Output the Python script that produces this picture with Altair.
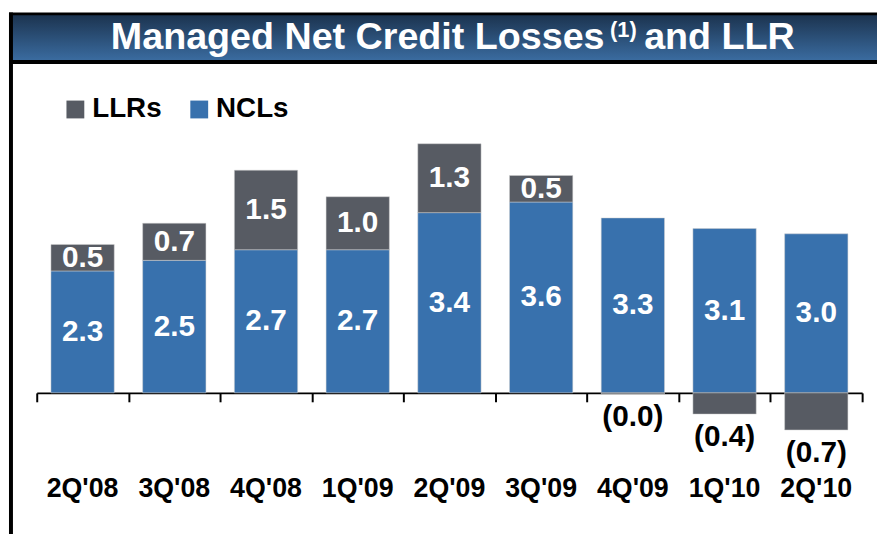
import altair as alt
import pandas as pd

quarters = ["2Q'08", "3Q'08", "4Q'08", "1Q'09", "2Q'09", "3Q'09", "4Q'09", "1Q'10", "2Q'10"]
ncl = [2.3, 2.5, 2.7, 2.7, 3.4, 3.6, 3.3, 3.1, 3.0]
llr = [0.5, 0.7, 1.5, 1.0, 1.3, 0.5, -0.02, -0.4, -0.7]
ncl_labels = ["2.3", "2.5", "2.7", "2.7", "3.4", "3.6", "3.3", "3.1", "3.0"]
llr_labels = ["0.5", "0.7", "1.5", "1.0", "1.3", "0.5", "(0.0)", "(0.4)", "(0.7)"]
series = ["LLRs", "NCLs"]

BLUE = "#3871ad"
GRAY = "#575b63"
FONT = "Liberation Sans"

W, H = 833, 516
YMIN, YMAX = -2.43, 7.215

rows = []
for q, n, l in zip(quarters, ncl, llr):
    rows.append({"q": q, "s": "NCLs", "v": n, "o": 0})
    rows.append({"q": q, "s": "LLRs", "v": l, "o": 1})
bars_df = pd.DataFrame(rows)

lab_rows = []
for q, n, l, nl, ll in zip(quarters, ncl, llr, ncl_labels, llr_labels):
    lab_rows.append({"q": q, "y": n / 2, "t": nl, "kind": "in"})
    if l >= 0:
        lab_rows.append({"q": q, "y": n + l / 2, "t": ll, "kind": "in"})
    else:
        lab_rows.append({"q": q, "y": l, "t": ll, "kind": "neg"})
lab_df = pd.DataFrame(lab_rows)

xsc = alt.Scale(domain=quarters, paddingInner=0, paddingOuter=0)
ysc = alt.Scale(domain=[YMIN, YMAX], nice=False, zero=False)

x_enc = alt.X("q:N", scale=xsc, sort=quarters,
              axis=alt.Axis(title=None, labels=False, offset=-(H - round(YMAX / (YMAX - YMIN) * H)),
                            domainColor="black", domainWidth=2, tickColor="black",
                            tickWidth=2, tickSize=9, tickBand="extent"))

bars = alt.Chart(bars_df).mark_bar(stroke="#d0d0d0", strokeWidth=0.5,
                                   width=alt.RelativeBandSize(0.69)).encode(
    x=x_enc,
    y=alt.Y("v:Q", scale=ysc, axis=None, stack="zero"),
    order=alt.Order("o:Q"),
    color=alt.Color("s:N", scale=alt.Scale(domain=series, range=[GRAY, BLUE]),
                    legend=alt.Legend(orient="none", legendX=25, legendY=86, direction="horizontal",
                                      title=None, symbolType="square", symbolSize=324,
                                      symbolStrokeWidth=0, symbolOpacity=1,
                                      labelFont=FONT, labelFontSize=28, labelFontWeight="bold",
                                      labelColor="black", labelOffset=3, columnPadding=24,
                                      padding=0, labelLimit=300)),
)

in_labels = alt.Chart(lab_df).transform_filter(alt.datum.kind == "in").mark_text(
    font=FONT, fontSize=30, fontWeight="bold", color="white", baseline="middle", align="center"
).encode(x=alt.X("q:N", scale=xsc, sort=quarters), y=alt.Y("y:Q", scale=ysc), text="t:N")

neg_labels = alt.Chart(lab_df).transform_filter(alt.datum.kind == "neg").mark_text(
    font=FONT, fontSize=30, fontWeight="bold", color="black", baseline="middle", align="center", dy=23
).encode(x=alt.X("q:N", scale=xsc, sort=quarters), y=alt.Y("y:Q", scale=ysc), text="t:N")

xlab_df = pd.DataFrame({"q": quarters})
x_labels = alt.Chart(xlab_df).mark_text(
    font=FONT, fontSize=27, fontWeight="bold", color="black", baseline="middle", align="center"
).encode(x=alt.X("q:N", scale=xsc, sort=quarters), y=alt.value(483), text="q:N")

one = pd.DataFrame({"a": [0]})
frame = alt.Chart(one).mark_rect(color="black").encode(
    x=alt.value(-28), x2=alt.value(848), y=alt.value(2), y2=alt.value(54))
left_line = alt.Chart(one).mark_rect(color="black").encode(
    x=alt.value(-28), x2=alt.value(-24), y=alt.value(2), y2=alt.value(530))
banner = alt.Chart(one).mark_rect(
    color=alt.Gradient(gradient="linear",
                       stops=[alt.GradientStop(color="#1c3450", offset=0),
                              alt.GradientStop(color="#3a6b9f", offset=1)],
                       x1=0, x2=0, y1=0, y2=1)
).encode(x=alt.value(-24), x2=alt.value(848), y=alt.value(5), y2=alt.value(50))

t1 = alt.Chart(one).mark_text(font=FONT, fontSize=38, fontWeight="bold", color="white",
                              align="right", baseline="alphabetic").encode(
    x=alt.value(573), y=alt.value(39), text=alt.value("Managed Net Credit Losses"))
t2 = alt.Chart(one).mark_text(font=FONT, fontSize=22, fontWeight="bold", color="white",
                              align="center", baseline="alphabetic").encode(
    x=alt.value(592), y=alt.value(27), text=alt.value("(1)"))
t3 = alt.Chart(one).mark_text(font=FONT, fontSize=38, fontWeight="bold", color="white",
                              align="left", baseline="alphabetic").encode(
    x=alt.value(613), y=alt.value(39), text=alt.value("and LLR"))

chart = alt.layer(
    frame, left_line, banner, t1, t2, t3, bars, in_labels, neg_labels, x_labels
).properties(
    width=W, height=H,
    padding={"left": 29, "top": 0, "right": 15, "bottom": 10},
    autosize=alt.AutoSizeParams(type="none"),
).configure_view(stroke=None)

chart.save("out.html", embed_options={"renderer": "svg", "actions": False})
